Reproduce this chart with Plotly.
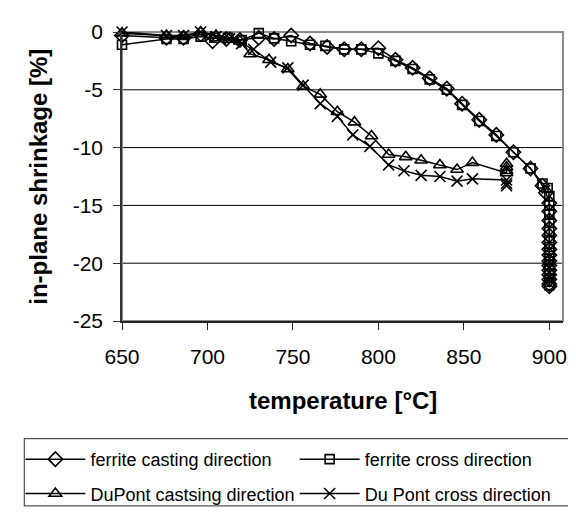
import plotly.graph_objects as go

# ---- data ----
ferrite_cast_T = [650, 676, 686, 696, 703, 711, 719, 730, 739, 749, 760, 770, 780, 790, 800, 810,
                  820, 830, 840, 849, 859, 869, 879, 889, 896, 898] + [900] * 15
ferrite_cast_v = [-0.3, -0.5, -0.5, -0.2, -0.8, -0.6, -0.7, -0.5, -0.6, -0.3, -1.0, -1.3, -1.5, -1.5,
                  -1.4, -2.4, -3.1, -4.0, -4.9, -6.2, -7.6, -8.9, -10.4, -11.8, -13.3, -13.9,
                  -14.8, -15.5, -16.3, -17.0, -17.6, -18.2, -18.8, -19.3, -19.8, -20.2, -20.6,
                  -21.0, -21.4, -21.8, -22.0]

ferrite_cross_T = [650, 676, 686, 696, 704, 712, 720, 730, 739, 749, 760, 769, 780, 790, 800, 810,
                   820, 830, 840, 849, 859, 869, 879, 889, 896, 899] + [900] * 15
ferrite_cross_v = [-1.1, -0.6, -0.6, -0.4, -0.5, -0.5, -0.7, -0.1, -0.55, -0.8, -1.1, -1.2, -1.5,
                   -1.5, -1.85, -2.5, -3.2, -4.1, -5.0, -6.3, -7.7, -9.0, -10.4, -11.8, -13.1, -13.5,
                   -14.2, -15.0, -15.8, -16.5, -17.3, -18.0, -18.6, -19.1, -19.6, -20.1, -20.5,
                   -20.9, -21.3, -21.6, -21.9]

dupont_cast_T = [650, 676, 686, 696, 705, 713, 719, 725, 736, 747, 756, 766, 776, 786, 796, 806,
                 816, 825, 836, 846, 855, 875, 875, 875, 875]
dupont_cast_v = [-0.1, -0.3, -0.4, 0.0, -0.3, -0.5, -0.8, -1.9, -2.4, -3.2, -4.7, -5.4, -6.9, -7.8,
                 -9.0, -10.6, -10.8, -11.1, -11.5, -11.9, -11.3, -12.2, -12.0, -11.7, -11.4]

dupont_cross_T = [650, 676, 686, 696, 705, 713, 720, 727, 737, 747, 756, 766, 776, 785, 795, 806,
                  815, 825, 836, 846, 855, 875, 875, 875]
dupont_cross_v = [0.0, -0.3, -0.3, 0.0, -0.4, -0.6, -1.0, -1.5, -2.6, -3.1, -4.6, -6.2, -7.3, -8.9,
                  -9.9, -11.5, -12.0, -12.4, -12.5, -12.9, -12.7, -12.8, -13.1, -13.3]

series_names = ["ferrite casting direction", "ferrite cross direction",
                "DuPont castsing direction", "Du Pont cross direction"]

x_tickvals = [650, 700, 750, 800, 850, 900]
y_tickvals = [0, -5, -10, -15, -20, -25]
y_ticktext = ["0", "-5", "-10", "-15", "-20", "-25"]
grid_levels = [-5, -10, -15, -20]

FONT = "Liberation Sans, Arial, sans-serif"

fig = go.Figure()
specs = [
    (ferrite_cast_T, ferrite_cast_v, "diamond-open", 11, "legend"),
    (ferrite_cross_T, ferrite_cross_v, "square-open", 9, "legend2"),
    (dupont_cast_T, dupont_cast_v, "triangle-up-open", 11, "legend"),
    (dupont_cross_T, dupont_cross_v, "x-thin", 11, "legend2"),
]
for i, ((xs, ys, sym, sz, lg), name) in enumerate(zip(specs, series_names)):
    fig.add_trace(go.Scatter(
        x=xs, y=ys, name=name, mode="lines+markers", cliponaxis=False,
        legend=lg, legendgroup="g%d" % i,
        line=dict(color="black", width=1.5),
        marker=dict(symbol=sym, size=sz, color="black",
                    line=dict(color="black", width=1.6)),
    ))

shapes = [dict(type="line", xref="paper", x0=0, x1=1, yref="y", y0=g, y1=g,
               line=dict(color="black", width=1), layer="below") for g in grid_levels]
shapes.append(dict(type="rect", xref="paper", yref="paper", x0=0, x1=1, y0=0, y1=1,
                   line=dict(color="#8c8c8c", width=2), layer="below"))
# legend frame
shapes.append(dict(type="rect", xref="paper", yref="paper", x0=-0.2215, x1=1.0246,
                   y0=-0.64, y1=-0.4067, line=dict(color="#555", width=1.2),
                   fillcolor="rgba(0,0,0,0)", layer="below"))

legend_common = dict(orientation="v", yanchor="top", xanchor="left",
                     bgcolor="rgba(0,0,0,0)", borderwidth=0,
                     font=dict(size=18), itemwidth=60, tracegroupgap=8)

fig.update_layout(
    width=576, height=516,
    margin=dict(l=108, r=21, t=18, b=198),
    paper_bgcolor="white", plot_bgcolor="white",
    font=dict(family=FONT, color="black", size=21),
    showlegend=True,
    shapes=shapes,
    xaxis=dict(range=[650, 908], tickvals=x_tickvals, showgrid=False, zeroline=False,
               showline=True, linecolor="#222", linewidth=1.5,
               ticks="outside", ticklen=7, tickcolor="#222", tickwidth=1.2,
               ticklabelstandoff=9, tickfont=dict(size=21)),
    yaxis=dict(range=[-25, 0], tickvals=y_tickvals, ticktext=y_ticktext, showgrid=False,
               zeroline=False, showline=True, linecolor="#333", linewidth=1.5,
               ticks="outside", ticklen=7, tickcolor="#333", tickwidth=1.2,
               ticklabelstandoff=6, tickfont=dict(size=21)),
    legend=dict(x=-0.2304, y=-0.415, **legend_common),
    legend2=dict(x=0.3915, y=-0.415, **legend_common),
    annotations=[
        dict(text="<b>temperature [°C]</b>", xref="paper", yref="paper", x=0.5, y=-0.275,
             xanchor="center", yanchor="middle", showarrow=False, font=dict(size=24)),
        dict(text="<b>in-plane shrinkage [%]</b>", xref="paper", yref="paper", x=-0.19, y=0.5,
             xanchor="center", yanchor="middle", textangle=-90, showarrow=False,
             font=dict(size=24)),
    ],
)

fig.write_html("out.html")
